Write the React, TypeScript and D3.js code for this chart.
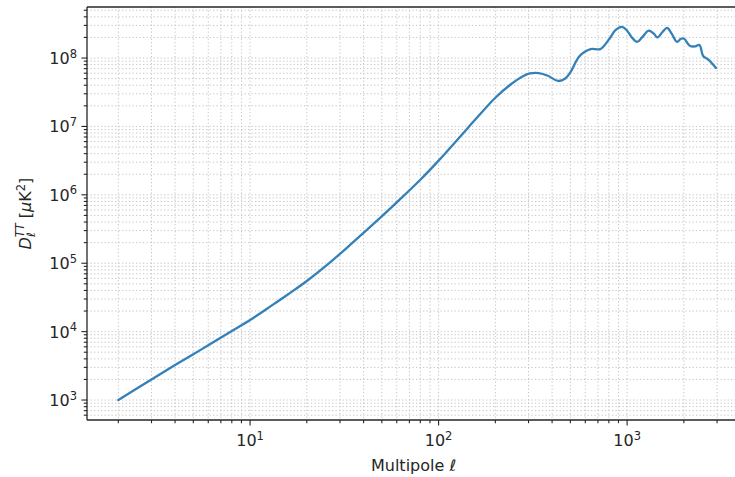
import React from "react";
import * as d3 from "d3";

const ell = [2, 3, 4, 5, 6, 8, 10, 13, 16, 20, 26, 35, 45, 60, 80, 100, 130, 160, 200, 240, 280, 305, 340, 380, 430, 470, 500, 560, 640, 720, 800, 870, 940, 1000, 1060, 1130, 1200, 1300, 1380, 1450, 1540, 1630, 1720, 1840, 1930, 2000, 2150, 2300, 2420, 2530, 2690, 2960];
const dTT = [1e3, 2e3, 3.24e3, 4.68e3, 6.31e3, 1.02e4, 1.48e4, 2.4e4, 3.55e4, 5.5e4, 9.77e4, 2.0e5, 3.72e5, 7.76e5, 1.66e6, 3.16e6, 7.08e6, 1.35e7, 2.63e7, 4.07e7, 5.43e7, 5.96e7, 6.03e7, 5.5e7, 4.62e7, 5.01e7, 6.17e7, 1.07e8, 1.35e8, 1.35e8, 1.86e8, 2.57e8, 2.85e8, 2.51e8, 2.0e8, 1.72e8, 2.0e8, 2.51e8, 2.29e8, 2.0e8, 2.4e8, 2.75e8, 2.29e8, 1.72e8, 1.91e8, 1.93e8, 1.51e8, 1.48e8, 1.55e8, 1.07e8, 9.55e7, 7.16e7];
const xTickExps = [1, 2, 3];
const yTickExps = [3, 4, 5, 6, 7, 8];

const W = 735, H = 477;
const L = 87, R = 744, T = 7, B = 420;
const FONT = "DejaVu Sans, sans-serif";

export default function App() {
  const x = d3.scaleLog().domain([Math.pow(10, 0.135), Math.pow(10, 3.62)]).range([L, R]);
  const y = d3.scaleLog().domain([Math.pow(10, 2.708), Math.pow(10, 8.746)]).range([B, T]);

  const minorVals = (dom: number[]) => {
    const out: { v: number; major: boolean }[] = [];
    for (let e = -1; e <= 10; e++) {
      for (let k = 1; k <= 9; k++) {
        const v = k * Math.pow(10, e);
        if (v >= dom[0] && v <= dom[1]) out.push({ v, major: k === 1 });
      }
    }
    return out;
  };
  const xt = minorVals(x.domain());
  const yt = minorVals(y.domain());

  const pts = ell.map((l, i) => [x(l), y(dTT[i])] as [number, number]);
  const path = d3.line().curve(d3.curveCatmullRom.alpha(0.5))(pts) || "";

  const gridColor = "#c6c6c6";
  const axisColor = "#262626";

  return (
    <div style={{ position: "fixed", left: 0, top: 0, width: W, height: H, background: "#fff" }}>
      <svg width={W} height={H} style={{ display: "block" }}>
        <rect x={0} y={0} width={W} height={H} fill="#fff" />
        <g>
          {xt.map((t, i) => (
            <line key={"gx" + i} x1={x(t.v)} x2={x(t.v)} y1={T} y2={B} stroke={gridColor} strokeWidth={1} strokeDasharray="1.3,2.2" />
          ))}
          {yt.map((t, i) => (
            <line key={"gy" + i} x1={L} x2={R} y1={y(t.v)} y2={y(t.v)} stroke={gridColor} strokeWidth={1} strokeDasharray="1.3,2.2" />
          ))}
        </g>
        <path d={path} fill="none" stroke="#3480b8" strokeWidth={2.3} strokeLinejoin="round" strokeLinecap="round" />
        <line x1={L} x2={R} y1={T} y2={T} stroke={axisColor} strokeWidth={1.3} />
        <line x1={L} x2={R} y1={B} y2={B} stroke={axisColor} strokeWidth={1.3} />
        <line x1={L} x2={L} y1={T} y2={B} stroke={axisColor} strokeWidth={1.3} />
        {xt.map((t, i) => (
          <line key={"tx" + i} x1={x(t.v)} x2={x(t.v)} y1={B} y2={B + (t.major ? 5.6 : 3.2)} stroke={axisColor} strokeWidth={1.1} />
        ))}
        {yt.map((t, i) => (
          <line key={"ty" + i} x1={L} x2={L - (t.major ? 5.6 : 3.2)} y1={y(t.v)} y2={y(t.v)} stroke={axisColor} strokeWidth={1.1} />
        ))}
        {xTickExps.map((e) => (
          <text key={"lx" + e} x={x(Math.pow(10, e))} y={446} textAnchor="middle" fontFamily={FONT} fontSize={16} fill="#262626">
            10<tspan fontSize={11.5} dy={-6.5}>{e}</tspan>
          </text>
        ))}
        {yTickExps.map((e) => (
          <text key={"ly" + e} x={77} y={y(Math.pow(10, e)) + 6} textAnchor="end" fontFamily={FONT} fontSize={16} fill="#262626">
            10<tspan fontSize={11.5} dy={-6.5}>{e}</tspan>
          </text>
        ))}
        <text x={(L + R) / 2 - 2} y={471} textAnchor="middle" fontFamily={FONT} fontSize={16} fill="#262626">
          Multipole <tspan fontStyle="italic">ℓ</tspan>
        </text>
        <text transform={`translate(31, ${(T + B) / 2}) rotate(-90)`} textAnchor="middle" fontFamily={FONT} fontSize={16} fill="#262626">
          <tspan fontStyle="italic">D</tspan>
          <tspan fontStyle="italic" fontSize={11.5} dy={4}>ℓ</tspan>
          <tspan fontStyle="italic" fontSize={11.5} dx={-5} dy={-11}>TT</tspan>
          <tspan dy={7}> [</tspan>
          <tspan fontStyle="italic">μ</tspan>
          <tspan>K</tspan>
          <tspan fontSize={11.5} dy={-6.5}>2</tspan>
          <tspan dy={6.5}>]</tspan>
        </text>
      </svg>
    </div>
  );
}
